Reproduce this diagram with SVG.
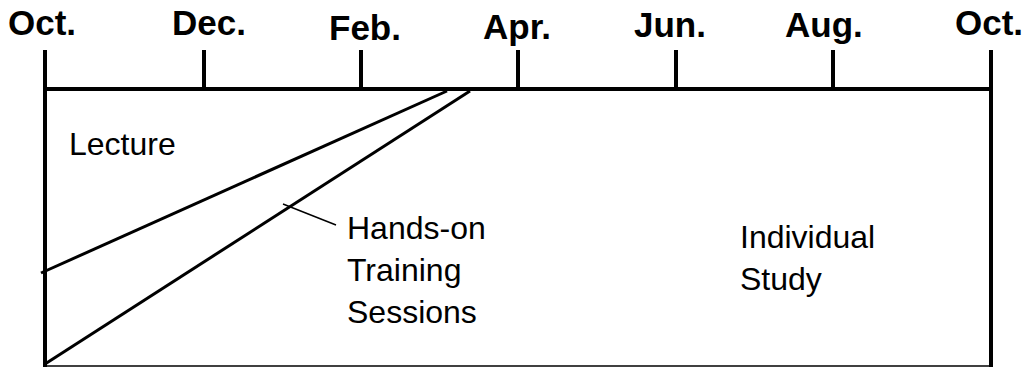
<svg xmlns="http://www.w3.org/2000/svg" width="1030" height="367" viewBox="0 0 1030 367">
<style>
.m{font-family:"Liberation Sans",Arial,sans-serif;font-weight:bold;font-size:35px;fill:#000}
.t{font-family:"Liberation Sans",Arial,sans-serif;font-size:32px;fill:#000}
.thick{stroke:#000;stroke-width:4;fill:none}
.diag{stroke:#000;stroke-width:3;fill:none}
.thin{stroke:#000;stroke-width:1.5;fill:none}
</style>
<rect width="1030" height="367" fill="#fff"/>
<g id="axis">
<line class="thick" x1="45" y1="89" x2="991" y2="89"/>
<line class="thick" x1="45" y1="50" x2="45" y2="367"/>
<line class="thick" x1="991" y1="50" x2="991" y2="367"/>
<line class="thick" x1="204" y1="50" x2="204" y2="89"/>
<line class="thick" x1="361" y1="50" x2="361" y2="89"/>
<line class="thick" x1="518" y1="50" x2="518" y2="89"/>
<line class="thick" x1="676" y1="50" x2="676" y2="89"/>
<line class="thick" x1="833" y1="50" x2="833" y2="89"/>
<line stroke="#000" stroke-width="1.5" x1="45" y1="366" x2="991" y2="366"/>
</g>
<g id="months">
<text class="m" x="8" y="35">Oct.</text>
<text class="m" x="172" y="35">Dec.</text>
<text class="m" x="329" y="40">Feb.</text>
<text class="m" x="483" y="39">Apr.</text>
<text class="m" x="634" y="37">Jun.</text>
<text class="m" x="785" y="37">Aug.</text>
<text class="m" x="955" y="35">Oct.</text>
</g>
<g id="connectors">
<line class="diag" x1="41" y1="273" x2="447" y2="91"/>
<line class="diag" x1="45" y1="364" x2="470" y2="91"/>
<line class="thin" x1="283" y1="204" x2="336" y2="225"/>
</g>
<g id="lecture"><text class="t" x="69" y="155">Lecture</text></g>
<g id="handson">
<text class="t" x="347" y="239">Hands-on</text>
<text class="t" x="347" y="281">Training</text>
<text class="t" x="347" y="323">Sessions</text>
</g>
<g id="individual">
<text class="t" x="740" y="248">Individual</text>
<text class="t" x="740" y="290">Study</text>
</g>
</svg>
